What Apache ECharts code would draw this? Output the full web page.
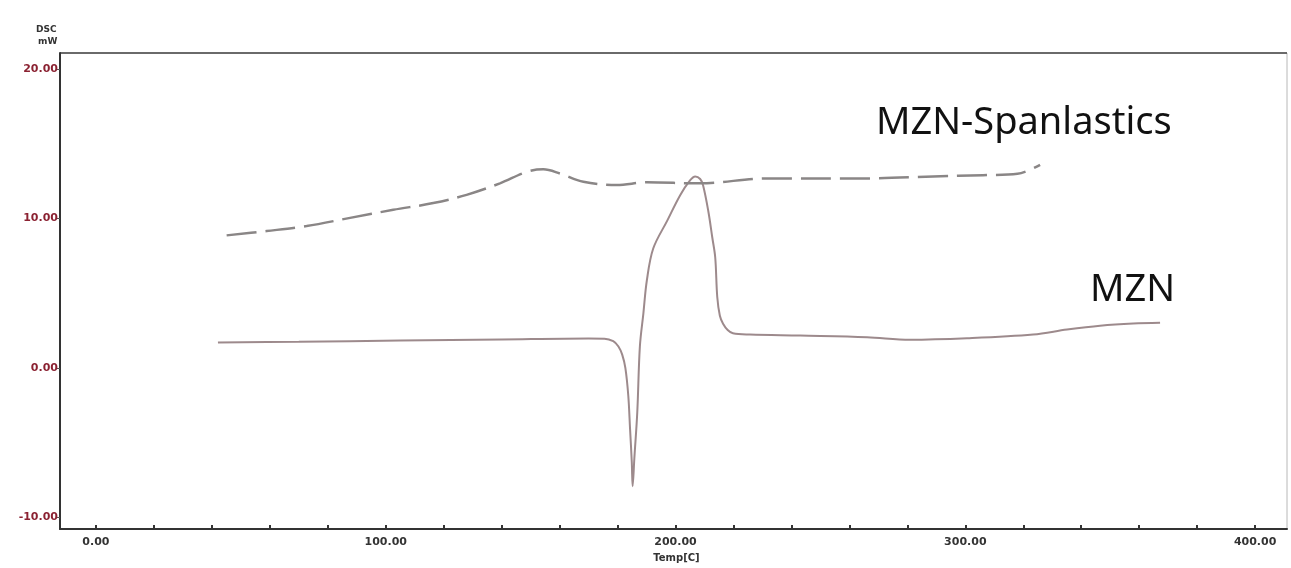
<!DOCTYPE html>
<html>
<head>
<meta charset="utf-8">
<script src="https://cdn.jsdelivr.net/npm/echarts@6/dist/echarts.min.js"></script>
<style>
  html, body { margin: 0; padding: 0; background: #fff; }
  #chart { width: 1291px; height: 568px; }
</style>
</head>
<body>
<div id="chart"></div>
<script>
// MZN (solid curve) - temperature / heat flow
var mznTemp = [42.1, 70, 105, 140, 170, 175.5, 178.5, 180.3, 181.6, 182.7, 183.7, 184.3, 184.9, 185.2, 185.8, 186.8, 187.7, 188.9, 190.1, 192.3, 197.1, 201.6, 205.0, 206.8, 208.5, 209.5, 211.3, 212.7, 213.7, 214.4, 215.3, 216.4, 218.0, 219.8, 225.7, 243.0, 266.1, 280.9, 300.6, 323.4, 335.1, 346.5, 357.9, 367.2];
var mznDsc = [1.72, 1.76, 1.85, 1.92, 1.98, 1.97, 1.8, 1.45, 0.9, 0.0, -1.85, -4.03, -6.26, -7.9, -6.0, -2.95, 1.45, 3.65, 5.86, 8.0, 9.85, 11.57, 12.56, 12.82, 12.65, 12.23, 10.51, 8.72, 7.40, 4.76, 3.5, 2.97, 2.55, 2.33, 2.25, 2.18, 2.07, 1.90, 2.00, 2.25, 2.58, 2.84, 2.99, 3.04];

// MZN-Spanlastics (dashed curve)
var spanTemp = [45.1, 58.9, 72.7, 87.7, 102.6, 116.4, 127.9, 139.4, 148.6, 154.4, 160.1, 168.2, 179.7, 190.1, 208.4, 231.5, 266.0, 288.9, 306.1, 318.0, 325.8];
var spanDsc = [8.88, 9.17, 9.50, 10.05, 10.59, 11.04, 11.59, 12.36, 13.13, 13.30, 13.02, 12.47, 12.25, 12.43, 12.36, 12.69, 12.69, 12.82, 12.91, 13.0, 13.6];

var xLabels = [0, 100, 200, 300, 400];
var xTicks = [0, 20, 40, 60, 80, 100, 120, 140, 160, 180, 200, 220, 240, 260, 280, 300, 320, 340, 360, 380, 400];
var yLabels = [-10, 0, 10, 20];

function pairs(xs, ys) {
  return xs.map(function (x, i) { return [x, ys[i]]; });
}

var myChart = echarts.init(document.getElementById("chart"));

var option = {
  backgroundColor: "#ffffff",
  animation: false,
  grid: {
    left: 60,
    right: 4,
    top: 53,
    bottom: 33,
    show: true,
    borderColor: "#b8b8b8",
    borderWidth: 1
  },
  xAxis: {
    type: "value",
    min: -12.4,
    max: 411,
    name: "Temp[C]",
    nameLocation: "middle",
    nameGap: 22,
    nameTextStyle: { color: "#333", fontWeight: "bold", fontSize: 10, fontFamily: "DejaVu Sans", padding: [0, 0, 0, 6] },
    splitLine: { show: false },
    axisLine: { onZero: false, lineStyle: { color: "#333", width: 2 } },
    axisTick: {
      inside: true,
      length: 4,
      customValues: xTicks,
      lineStyle: { color: "#333", width: 2 }
    },
    axisLabel: {
      customValues: xLabels,
      margin: 8,
      color: "#333",
      fontWeight: "bold",
      fontSize: 11,
      fontFamily: "DejaVu Sans",
      formatter: function (v) { return v.toFixed(2); }
    }
  },
  yAxis: {
    type: "value",
    min: -10.77,
    max: 21.08,
    splitLine: { show: false },
    axisLine: { onZero: false, lineStyle: { color: "#333", width: 2 } },
    axisTick: {
      length: 4,
      customValues: yLabels,
      lineStyle: { color: "#555", width: 1 }
    },
    axisLabel: {
      customValues: yLabels,
      margin: 2,
      color: "#8b2232",
      fontWeight: "bold",
      fontSize: 11,
      fontFamily: "DejaVu Sans",
      formatter: function (v) { return v.toFixed(2); }
    }
  },
  graphic: [
    { type: "line", shape: { x1: 60, y1: 53, x2: 1287, y2: 53 }, style: { stroke: "#444", lineWidth: 1.5 } },
    { type: "text", left: 36, top: 25, style: { text: "DSC", fill: "#333", font: "bold 9px DejaVu Sans" } },
    { type: "text", left: 38, top: 37, style: { text: "mW", fill: "#333", font: "bold 9px DejaVu Sans" } },
    { type: "text", left: 876, top: 104, style: { text: "MZN-Spanlastics", fill: "#111", font: "38px Noto Sans" } },
    { type: "text", left: 1090, top: 271, style: { text: "MZN", fill: "#111", font: "38px Noto Sans" } }
  ],
  series: [
    {
      name: "MZN",
      type: "line",
      data: pairs(mznTemp, mznDsc),
      showSymbol: false,
      smooth: 0.35,
      lineStyle: { color: "#9d8a8c", width: 2 }
    },
    {
      name: "MZN-Spanlastics",
      type: "line",
      data: pairs(spanTemp, spanDsc),
      showSymbol: false,
      smooth: 0.35,
      lineStyle: { color: "#8a8686", width: 2.5, type: [30, 9] }
    }
  ]
};

myChart.setOption(option);
</script>
</body>
</html>
